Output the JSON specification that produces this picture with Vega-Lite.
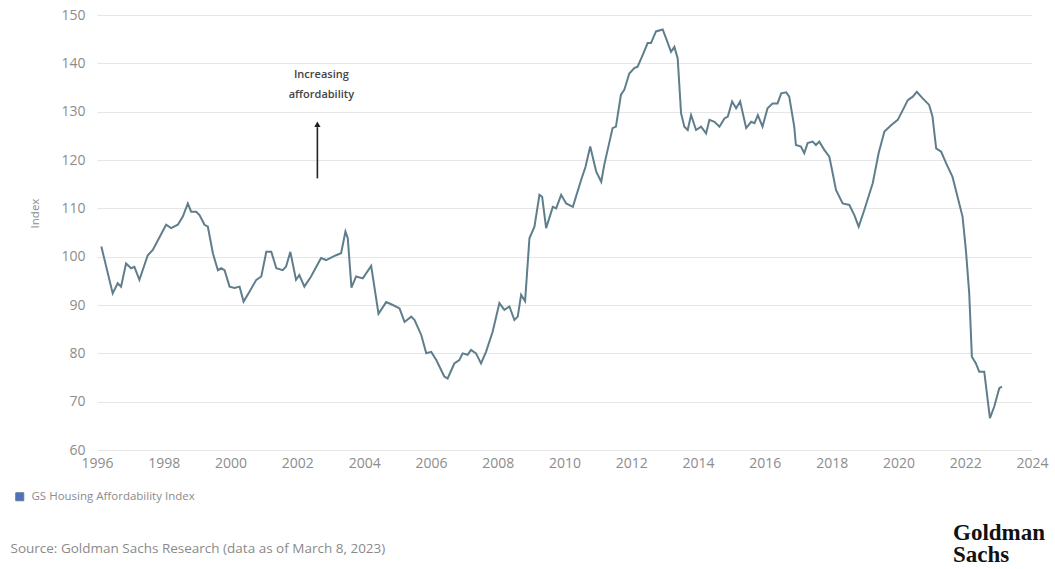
{
  "$schema": "https://vega.github.io/schema/vega-lite/v6.json",
  "width": 935,
  "height": 435,
  "autosize": "none",
  "padding": {"left": 97, "top": 15, "right": 23, "bottom": 119},
  "background": "white",
  "config": {"view": {"stroke": null}, "font": "Open Sans"},
  "title": {
    "text": ["Goldman", "Sachs"],
    "orient": "bottom",
    "anchor": "end",
    "align": "left",
    "frame": "group",
    "dx": -79,
    "offset": -33,
    "font": "Liberation Serif",
    "fontSize": 23,
    "fontWeight": "bold",
    "color": "#111111",
    "lineHeight": 22
  },
  "datasets": {
    "hai": [
      {"year": 1996.13, "index": 102.1},
      {"year": 1996.47, "index": 92.4},
      {"year": 1996.62, "index": 94.5},
      {"year": 1996.72, "index": 93.8},
      {"year": 1996.87, "index": 98.6},
      {"year": 1997.02, "index": 97.6},
      {"year": 1997.12, "index": 97.9},
      {"year": 1997.27, "index": 95.2},
      {"year": 1997.52, "index": 100.3},
      {"year": 1997.67, "index": 101.4},
      {"year": 1998.07, "index": 106.6},
      {"year": 1998.22, "index": 105.9},
      {"year": 1998.42, "index": 106.6},
      {"year": 1998.57, "index": 108.3},
      {"year": 1998.72, "index": 111.0},
      {"year": 1998.82, "index": 109.3},
      {"year": 1998.97, "index": 109.3},
      {"year": 1999.07, "index": 108.6},
      {"year": 1999.22, "index": 106.6},
      {"year": 1999.32, "index": 106.2},
      {"year": 1999.47, "index": 100.7},
      {"year": 1999.62, "index": 97.2},
      {"year": 1999.72, "index": 97.6},
      {"year": 1999.82, "index": 97.2},
      {"year": 1999.97, "index": 93.8},
      {"year": 2000.12, "index": 93.5},
      {"year": 2000.27, "index": 93.8},
      {"year": 2000.39, "index": 90.7},
      {"year": 2000.57, "index": 92.8},
      {"year": 2000.77, "index": 95.2},
      {"year": 2000.92, "index": 95.9},
      {"year": 2001.07, "index": 101.0},
      {"year": 2001.22, "index": 101.0},
      {"year": 2001.37, "index": 97.6},
      {"year": 2001.56, "index": 97.2},
      {"year": 2001.66, "index": 97.9},
      {"year": 2001.79, "index": 101.0},
      {"year": 2001.96, "index": 95.2},
      {"year": 2002.06, "index": 96.2},
      {"year": 2002.21, "index": 93.8},
      {"year": 2002.41, "index": 95.9},
      {"year": 2002.71, "index": 99.7},
      {"year": 2002.86, "index": 99.3},
      {"year": 2003.16, "index": 100.3},
      {"year": 2003.31, "index": 100.7},
      {"year": 2003.44, "index": 105.2},
      {"year": 2003.51, "index": 103.8},
      {"year": 2003.62, "index": 93.6},
      {"year": 2003.76, "index": 95.9},
      {"year": 2003.96, "index": 95.5},
      {"year": 2004.21, "index": 98.1},
      {"year": 2004.43, "index": 88.2},
      {"year": 2004.66, "index": 90.6},
      {"year": 2004.86, "index": 90.0},
      {"year": 2005.06, "index": 89.3},
      {"year": 2005.21, "index": 86.5},
      {"year": 2005.41, "index": 87.6},
      {"year": 2005.51, "index": 86.9},
      {"year": 2005.71, "index": 83.8},
      {"year": 2005.86, "index": 80.0},
      {"year": 2006.01, "index": 80.3},
      {"year": 2006.16, "index": 78.6},
      {"year": 2006.40, "index": 75.2},
      {"year": 2006.50, "index": 74.8},
      {"year": 2006.70, "index": 77.9},
      {"year": 2006.85, "index": 78.6},
      {"year": 2006.95, "index": 80.0},
      {"year": 2007.10, "index": 79.7},
      {"year": 2007.20, "index": 80.7},
      {"year": 2007.35, "index": 80.0},
      {"year": 2007.50, "index": 77.9},
      {"year": 2007.65, "index": 80.3},
      {"year": 2007.85, "index": 84.5},
      {"year": 2008.05, "index": 90.4},
      {"year": 2008.20, "index": 89.0},
      {"year": 2008.35, "index": 89.7},
      {"year": 2008.50, "index": 86.9},
      {"year": 2008.60, "index": 87.6},
      {"year": 2008.70, "index": 92.1},
      {"year": 2008.82, "index": 90.8},
      {"year": 2008.95, "index": 103.8},
      {"year": 2009.10, "index": 106.2},
      {"year": 2009.25, "index": 112.8},
      {"year": 2009.33, "index": 112.4},
      {"year": 2009.45, "index": 105.9},
      {"year": 2009.65, "index": 110.3},
      {"year": 2009.75, "index": 110.0},
      {"year": 2009.90, "index": 112.8},
      {"year": 2010.05, "index": 111.0},
      {"year": 2010.25, "index": 110.3},
      {"year": 2010.50, "index": 115.9},
      {"year": 2010.63, "index": 118.6},
      {"year": 2010.77, "index": 122.8},
      {"year": 2010.95, "index": 117.6},
      {"year": 2011.10, "index": 115.5},
      {"year": 2011.19, "index": 119.0},
      {"year": 2011.44, "index": 126.6},
      {"year": 2011.54, "index": 126.9},
      {"year": 2011.69, "index": 133.5},
      {"year": 2011.79, "index": 134.5},
      {"year": 2011.94, "index": 137.9},
      {"year": 2012.09, "index": 139.0},
      {"year": 2012.19, "index": 139.3},
      {"year": 2012.34, "index": 141.7},
      {"year": 2012.49, "index": 144.2},
      {"year": 2012.59, "index": 144.2},
      {"year": 2012.74, "index": 146.6},
      {"year": 2012.94, "index": 147.0},
      {"year": 2013.04, "index": 145.2},
      {"year": 2013.19, "index": 142.4},
      {"year": 2013.29, "index": 143.4},
      {"year": 2013.39, "index": 141.0},
      {"year": 2013.49, "index": 129.7},
      {"year": 2013.59, "index": 126.9},
      {"year": 2013.69, "index": 126.2},
      {"year": 2013.79, "index": 129.3},
      {"year": 2013.94, "index": 126.2},
      {"year": 2014.09, "index": 126.9},
      {"year": 2014.24, "index": 125.5},
      {"year": 2014.34, "index": 128.3},
      {"year": 2014.49, "index": 127.9},
      {"year": 2014.64, "index": 126.9},
      {"year": 2014.79, "index": 128.6},
      {"year": 2014.89, "index": 129.0},
      {"year": 2015.02, "index": 132.1},
      {"year": 2015.14, "index": 130.7},
      {"year": 2015.26, "index": 132.1},
      {"year": 2015.44, "index": 126.6},
      {"year": 2015.59, "index": 127.9},
      {"year": 2015.69, "index": 127.6},
      {"year": 2015.79, "index": 129.3},
      {"year": 2015.93, "index": 126.9},
      {"year": 2016.08, "index": 130.7},
      {"year": 2016.23, "index": 131.7},
      {"year": 2016.38, "index": 131.7},
      {"year": 2016.49, "index": 133.8},
      {"year": 2016.64, "index": 134.0},
      {"year": 2016.73, "index": 133.1},
      {"year": 2016.88, "index": 126.9},
      {"year": 2016.93, "index": 123.1},
      {"year": 2017.08, "index": 122.8},
      {"year": 2017.18, "index": 121.4},
      {"year": 2017.28, "index": 123.5},
      {"year": 2017.43, "index": 123.8},
      {"year": 2017.53, "index": 123.1},
      {"year": 2017.63, "index": 123.8},
      {"year": 2017.78, "index": 122.1},
      {"year": 2017.93, "index": 120.7},
      {"year": 2018.03, "index": 117.3},
      {"year": 2018.13, "index": 113.8},
      {"year": 2018.33, "index": 111.0},
      {"year": 2018.53, "index": 110.7},
      {"year": 2018.68, "index": 108.6},
      {"year": 2018.81, "index": 106.2},
      {"year": 2018.98, "index": 109.7},
      {"year": 2019.23, "index": 115.2},
      {"year": 2019.41, "index": 121.5},
      {"year": 2019.58, "index": 125.9},
      {"year": 2019.78, "index": 127.2},
      {"year": 2019.98, "index": 128.3},
      {"year": 2020.18, "index": 131.0},
      {"year": 2020.28, "index": 132.4},
      {"year": 2020.43, "index": 133.1},
      {"year": 2020.55, "index": 134.1},
      {"year": 2020.72, "index": 132.8},
      {"year": 2020.92, "index": 131.4},
      {"year": 2021.02, "index": 129.0},
      {"year": 2021.13, "index": 122.4},
      {"year": 2021.28, "index": 121.7},
      {"year": 2021.43, "index": 119.3},
      {"year": 2021.62, "index": 116.5},
      {"year": 2021.77, "index": 112.4},
      {"year": 2021.92, "index": 108.3},
      {"year": 2022.02, "index": 101.4},
      {"year": 2022.12, "index": 92.4},
      {"year": 2022.20, "index": 79.3},
      {"year": 2022.32, "index": 77.9},
      {"year": 2022.42, "index": 76.2},
      {"year": 2022.57, "index": 76.2},
      {"year": 2022.74, "index": 66.6},
      {"year": 2022.87, "index": 69.0},
      {"year": 2023.02, "index": 72.8},
      {"year": 2023.10, "index": 73.1}
    ],
    "notes": [
      {"year": 2002.72, "index": 137.6, "label": "Increasing"},
      {"year": 2002.72, "index": 133.45, "label": "affordability"}
    ],
    "arrow": [
      {"year": 2002.6, "from": 116.2, "to": 126.8, "tip": 127.4}
    ]
  },
  "layer": [
    {
      "data": {"name": "hai"},
      "mark": {"type": "line", "strokeWidth": 2, "interpolate": "linear"},
      "encoding": {
        "x": {
          "field": "year",
          "type": "quantitative",
          "scale": {"domain": [1996, 2024], "nice": false, "zero": false},
          "axis": {
            "values": [1996, 1998, 2000, 2002, 2004, 2006, 2008, 2010, 2012, 2014, 2016, 2018, 2020, 2022, 2024],
            "format": "d",
            "grid": false,
            "domain": false,
            "ticks": false,
            "labelFont": "Open Sans",
            "labelFontSize": 14,
            "labelColor": "#8c8c8c",
            "labelPadding": 6,
            "labelFlush": false,
            "title": "Source: Goldman Sachs Research (data as of March 8, 2023)",
            "titleX": -87,
            "titleY": 98,
            "titleAlign": "left",
            "titleBaseline": "middle",
            "titleFont": "Open Sans",
            "titleFontSize": 13.5,
            "titleFontWeight": "normal",
            "titleColor": "#8a8a8a"
          }
        },
        "y": {
          "field": "index",
          "type": "quantitative",
          "scale": {"domain": [60, 150], "nice": false, "zero": false},
          "axis": {
            "values": [60, 70, 80, 90, 100, 110, 120, 130, 140, 150],
            "grid": true,
            "gridColor": "#e6e6e6",
            "gridWidth": 1,
            "domain": false,
            "ticks": false,
            "labelFont": "Open Sans",
            "labelFontSize": 14,
            "labelColor": "#8c8c8c",
            "labelPadding": 12,
            "title": "Index",
            "titleFont": "Open Sans",
            "titleFontSize": 11.5,
            "titleFontWeight": "normal",
            "titleColor": "#8a8a8a",
            "titleAngle": 270,
            "titleX": -62,
            "titleY": 198,
            "titleAlign": "center",
            "titleBaseline": "middle"
          }
        },
        "color": {
          "datum": "GS Housing Affordability Index",
          "type": "nominal",
          "scale": {"range": ["#5f7e8c"]},
          "legend": {
            "orient": "none",
            "legendX": -83,
            "legendY": 476,
            "title": null,
            "symbolType": "square",
            "symbolSize": 64,
            "labelFont": "Open Sans",
            "labelFontSize": 11.5,
            "labelColor": "#8c8c8c",
            "labelOffset": 6,
            "labelLimit": 400,
            "encode": {
              "symbols": {
                "update": {
                  "fill": {"value": "#4f71c2"},
                  "stroke": {"value": "#3d5fae"},
                  "strokeWidth": {"value": 1},
                  "opacity": {"value": 1}
                }
              }
            }
          }
        }
      }
    },
    {
      "data": {"name": "arrow"},
      "mark": {"type": "rule", "color": "#222222", "strokeWidth": 1.6},
      "encoding": {
        "x": {"field": "year", "type": "quantitative"},
        "y": {"field": "from", "type": "quantitative"},
        "y2": {"field": "to"}
      }
    },
    {
      "data": {"name": "arrow"},
      "mark": {"type": "point", "shape": "triangle-up", "filled": true, "color": "#222222", "size": 40, "opacity": 1},
      "encoding": {
        "x": {"field": "year", "type": "quantitative"},
        "y": {"field": "tip", "type": "quantitative"}
      }
    },
    {
      "data": {"name": "notes"},
      "mark": {"type": "text", "font": "Open Sans", "fontSize": 11, "fontWeight": 600, "color": "#444444", "align": "center", "baseline": "middle"},
      "encoding": {
        "x": {"field": "year", "type": "quantitative"},
        "y": {"field": "index", "type": "quantitative"},
        "text": {"field": "label"}
      }
    }
  ]
}
